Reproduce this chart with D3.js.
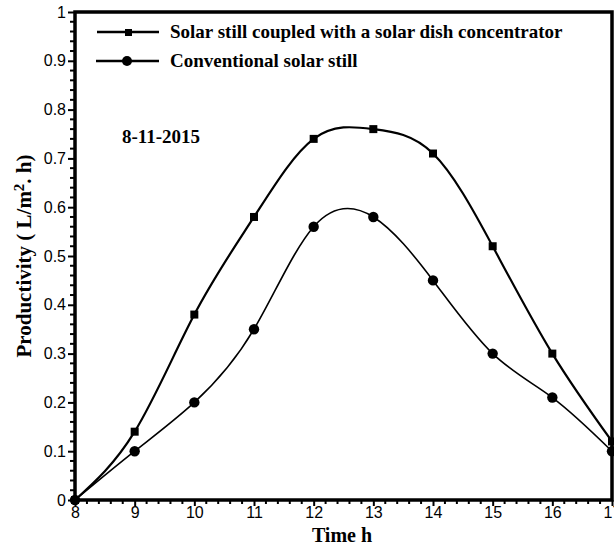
<!DOCTYPE html>
<html><head><meta charset="utf-8">
<script src="https://cdn.jsdelivr.net/npm/d3@7"></script>
<style>body{margin:0;background:#fff}svg{display:block}</style>
</head><body>
<script>
const hours = [8, 9, 10, 11, 12, 13, 14, 15, 16, 17];
const dishStill = [0, 0.14, 0.38, 0.58, 0.74, 0.76, 0.71, 0.52, 0.30, 0.12];
const conventionalStill = [0, 0.10, 0.20, 0.35, 0.56, 0.58, 0.45, 0.30, 0.21, 0.10];
const xTicks = [8, 9, 10, 11, 12, 13, 14, 15, 16, 17];
const yTicks = [0, 0.1, 0.2, 0.3, 0.4, 0.5, 0.6, 0.7, 0.8, 0.9, 1];
const yTickLabels = ["0", "0.1", "0.2", "0.3", "0.4", "0.5", "0.6", "0.7", "0.8", "0.9", "1"];
const seriesNames = ["Solar still coupled with a solar dish concentrator", "Conventional solar still"];
const dateLabel = "8-11-2015";

const W = 614, H = 548;
const svg = d3.select("body").append("svg").attr("width", W).attr("height", H);
const x = d3.scaleLinear().domain([8, 17]).range([75, 612]);
const y = d3.scaleLinear().domain([0, 1]).range([500, 12]);
const sans = "'Liberation Sans', Arial, sans-serif";
const serif = "'Liberation Serif', 'Times New Roman', serif";

// minor ticks
const xMinor = d3.range(8, 17.001, 0.2).filter(v => Math.abs(v - Math.round(v)) > 1e-6);
const yMinor = d3.range(0, 1.0001, 0.02).filter(v => Math.abs(v * 10 - Math.round(v * 10)) > 1e-6);
svg.append("g").selectAll("line").data(xMinor).join("line")
  .attr("x1", d => x(d)).attr("x2", d => x(d)).attr("y1", 500).attr("y2", 504)
  .attr("stroke", "#000").attr("stroke-width", 2);
svg.append("g").selectAll("line").data(yMinor).join("line")
  .attr("y1", d => y(d)).attr("y2", d => y(d)).attr("x1", 75).attr("x2", 70)
  .attr("stroke", "#000").attr("stroke-width", 2);

// axes
const xAxis = d3.axisBottom(x).tickValues(xTicks).tickSize(6).tickPadding(1).tickFormat(d3.format("d"));
const gx = svg.append("g").attr("transform", "translate(0,500)").call(xAxis);
gx.select(".domain").remove();
gx.selectAll(".tick line").attr("stroke-width", 2);
gx.selectAll("text").attr("font-family", sans).attr("font-size", 16).attr("fill", "#000");

const yAxis = d3.axisLeft(y).tickValues(yTicks).tickSize(7).tickPadding(2).tickFormat((d, i) => yTickLabels[i]);
const gy = svg.append("g").attr("transform", "translate(75,0)").call(yAxis);
gy.select(".domain").remove();
gy.selectAll(".tick line").attr("stroke-width", 2);
gy.selectAll("text").attr("font-family", sans).attr("font-size", 16).attr("fill", "#000");

// frame
svg.append("rect").attr("x", x(8)).attr("y", y(1)).attr("width", x(17) - x(8)).attr("height", y(0) - y(1))
  .attr("fill", "none").attr("stroke", "#000").attr("stroke-width", 3.5);

// lines
const line = d3.line().x((d, i) => x(hours[i])).y(d => y(d)).curve(d3.curveNatural);
svg.append("path").attr("d", line(dishStill)).attr("fill", "none").attr("stroke", "#000").attr("stroke-width", 2.2);
svg.append("path").attr("d", line(conventionalStill)).attr("fill", "none").attr("stroke", "#000").attr("stroke-width", 1.6);

svg.append("g").selectAll("rect").data(dishStill).join("rect")
  .attr("x", (d, i) => x(hours[i]) - 4).attr("y", d => y(d) - 4).attr("width", 8).attr("height", 8).attr("fill", "#000");
svg.append("g").selectAll("circle").data(conventionalStill).join("circle")
  .attr("cx", (d, i) => x(hours[i])).attr("cy", d => y(d)).attr("r", 5.2).attr("fill", "#000");

// legend
const lg = svg.append("g");
lg.append("line").attr("x1", 97).attr("x2", 159).attr("y1", 32).attr("y2", 32).attr("stroke", "#000").attr("stroke-width", 2.5);
lg.append("rect").attr("x", 125).attr("y", 29).attr("width", 7).attr("height", 7).attr("fill", "#000");
lg.append("line").attr("x1", 96).attr("x2", 159).attr("y1", 61).attr("y2", 61).attr("stroke", "#000").attr("stroke-width", 2.5);
lg.append("circle").attr("cx", 127).attr("cy", 61).attr("r", 5).attr("fill", "#000");
lg.append("text").attr("x", 170).attr("y", 38).text(seriesNames[0])
  .attr("font-family", serif).attr("font-weight", "bold").attr("font-size", 19);
lg.append("text").attr("x", 170).attr("y", 67).text(seriesNames[1])
  .attr("font-family", serif).attr("font-weight", "bold").attr("font-size", 19);

svg.append("text").attr("x", 122).attr("y", 143).text(dateLabel)
  .attr("font-family", serif).attr("font-weight", "bold").attr("font-size", 19);

// axis titles
svg.append("text").attr("x", 342).attr("y", 542).attr("text-anchor", "middle").text("Time h")
  .attr("font-family", serif).attr("font-weight", "bold").attr("font-size", 20);
const yt = svg.append("text").attr("transform", "translate(31,256) rotate(-90)").attr("text-anchor", "middle")
  .attr("font-family", serif).attr("font-weight", "bold").attr("font-size", 21);
yt.append("tspan").text("Productivity ( L/m");
yt.append("tspan").attr("dy", -7).attr("font-size", 15).text("2");
yt.append("tspan").attr("dy", 7).text(". h)");
</script>
</body></html>
